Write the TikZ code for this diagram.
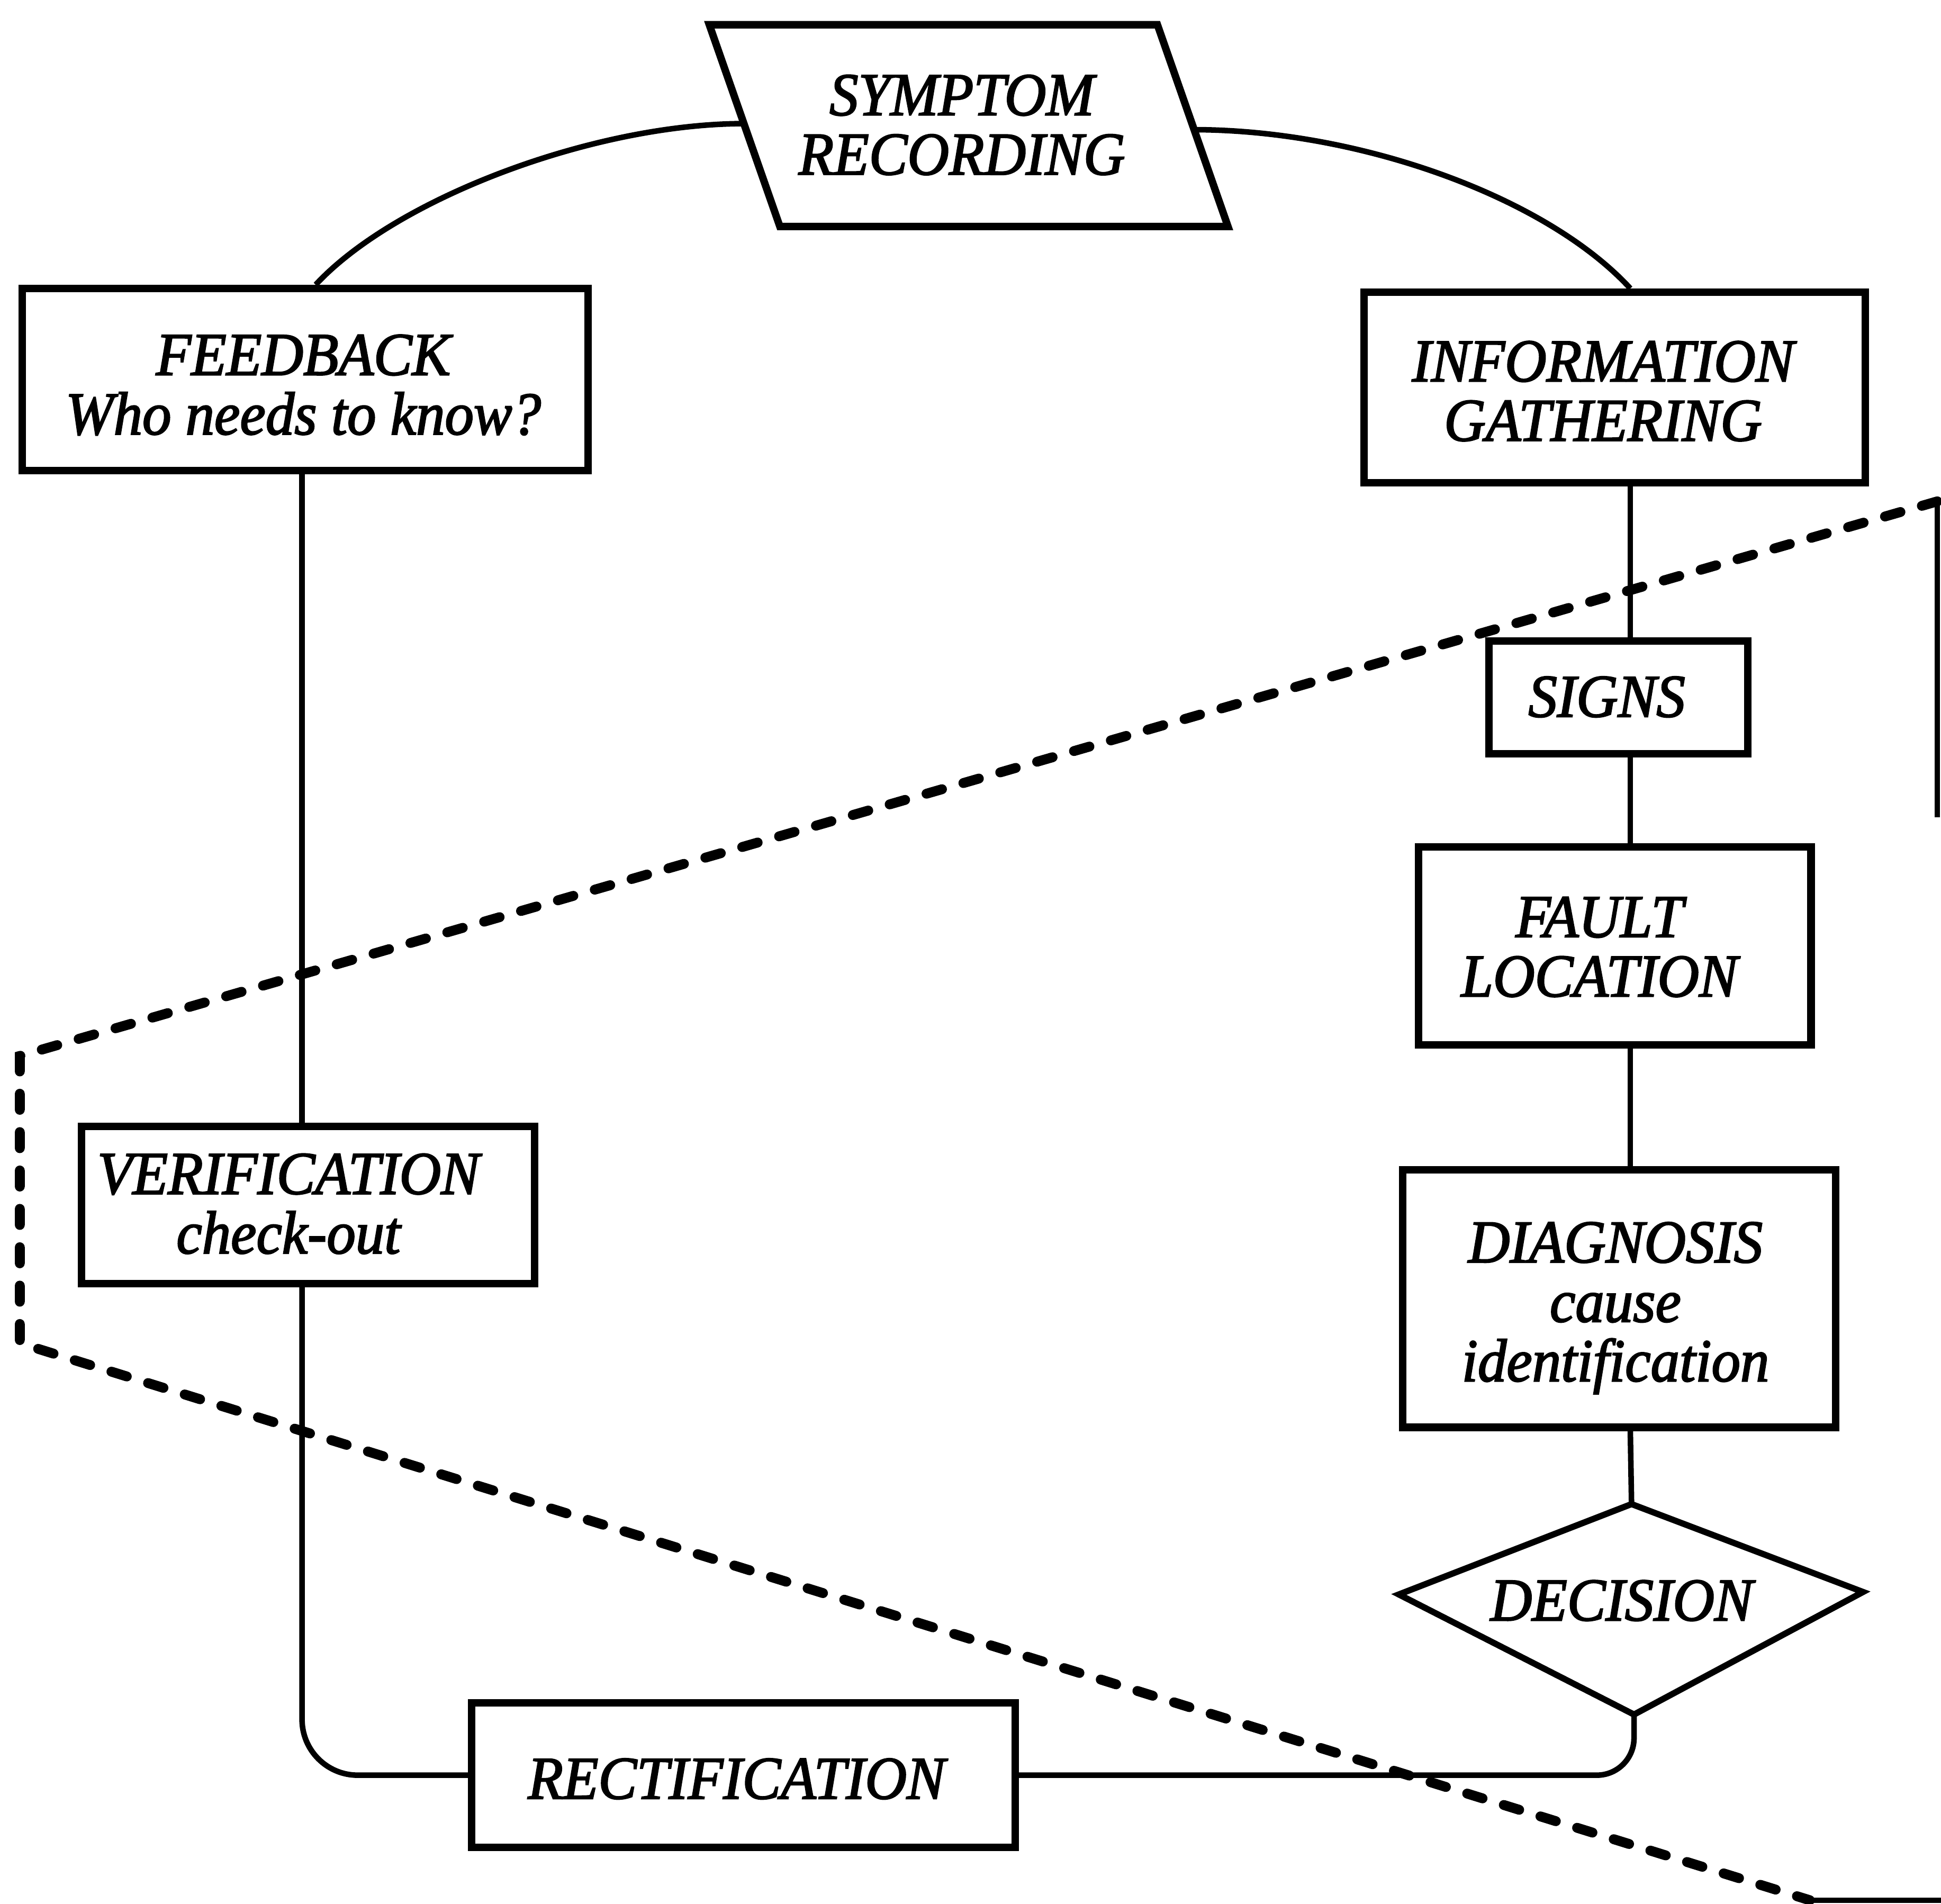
\documentclass[tikz,border=0pt]{standalone}
\usepackage{fontspec}
\setmainfont{Liberation Serif}[ItalicFeatures={FakeBold=2.2,FakeStretch=0.95}]
\usetikzlibrary{calc}
\begin{document}
\begin{tikzpicture}[x=1pt,y=-1pt,
  lbl/.style={font=\fontsize{49}{48}\selectfont\itshape, align=center, inner sep=0pt},
  box/.style={draw, line width=6pt, inner sep=0pt},
  link/.style={line width=4.5pt},
  cut/.style={line width=8pt, dash pattern=on 13pt off 18pt, line cap=round}]
\useasboundingbox (0,0) rectangle (1568,1538);

% symptom recording (parallelogram)
\coordinate (s1) at (573,20);
\coordinate (s2) at (935,20);
\coordinate (s3) at (992,183);
\coordinate (s4) at (630,183);
\draw[line width=6pt, line join=miter] (s1) -- (s2) -- (s3) -- (s4) -- cycle;
\node[lbl] (srt) at (777,101) {SYMPTOM\\RECORDING};
\coordinate (srl) at ($(s1)!0.49!(s4)$);
\coordinate (srr) at ($(s2)!0.52!(s3)$);

% process boxes
\node[box, minimum width=457pt, minimum height=147pt] (fb) at (246.5,306.5) {};
\node[box, minimum width=405pt, minimum height=154pt] (ig) at (1304.5,313) {};
\node[box, minimum width=209pt, minimum height=91pt]  (sg) at (1307.5,563.5) {};
\node[box, minimum width=317pt, minimum height=160pt] (fl) at (1304.5,764) {};
\node[box, minimum width=350pt, minimum height=208pt] (dg) at (1308,1049) {};
\node[box, minimum width=366pt, minimum height=127pt] (ver) at (249,973.5) {};
\node[box, minimum width=439pt, minimum height=117pt] (rect) at (600.5,1434) {};

% decision diamond
\coordinate (dtop) at (1318,1215);
\coordinate (dright) at (1505,1286);
\coordinate (dbot) at (1320,1385);
\coordinate (dleft) at (1130,1288);
\draw[line width=5pt, line join=miter] (dtop) -- (dright) -- (dbot) -- (dleft) -- cycle;

% labels
\node[lbl] (fbt) at (245,311) {FEEDBACK\\Who needs to know?};
\node[lbl] (igt) at (1295,316) {INFORMATION\\GATHERING};
\node[lbl] (sgt) at (1298,563) {SIGNS};
\node[lbl] (flt) at (1292,765) {FAULT\\LOCATION};
\node[lbl, text depth=0pt] (dgt) at (1305,1051.5) {DIAGNOSIS\\cause\\identification};
\node[lbl] (vert) at (233,972.5) {VERIFICATION\\check-out};
\node[lbl] (rectt) at (595,1437) {RECTIFICATION};
\node[lbl] (dect) at (1310,1293) {DECISION};

% connectors
\coordinate (vx) at (244,0);
\coordinate (rx) at (1317,0);
\path (fb.north) ++(8.5,0) coordinate (fbin);
\draw[link] (srl) .. controls (480,100) and (320,160) .. (fbin);
\draw[link] (srr) .. controls (1100,105) and (1250,160) .. (ig.north -| rx);
\draw[link] (fb.south -| vx) -- (ver.north -| vx);
\draw[link, rounded corners=45pt] (ver.south -| vx) |- (rect.west);
\draw[link] (ig.south -| rx) -- (sg.north -| rx);
\draw[link] (sg.south -| rx) -- (fl.north -| rx);
\draw[link] (fl.south -| rx) -- (dg.north -| rx);
\draw[link] (dg.south -| rx) -- (dtop);
\draw[link, rounded corners=30pt] (dbot) |- (rect.east);

% dashed boundary
\coordinate (c1) at (16,853);
\coordinate (c2) at (16,1085);
\coordinate (c3) at (1462,1535);
\coordinate (c4) at (1565,405);
\coordinate (c5) at (1570,1535);
\coordinate (c6) at (1565,660);
\draw[cut] (c4) -- (c1) -- (c2) -- (c3);
\draw[link] (c4) -- (c6);
\draw[link] (c3) -- (c5);
\end{tikzpicture}
\end{document}
